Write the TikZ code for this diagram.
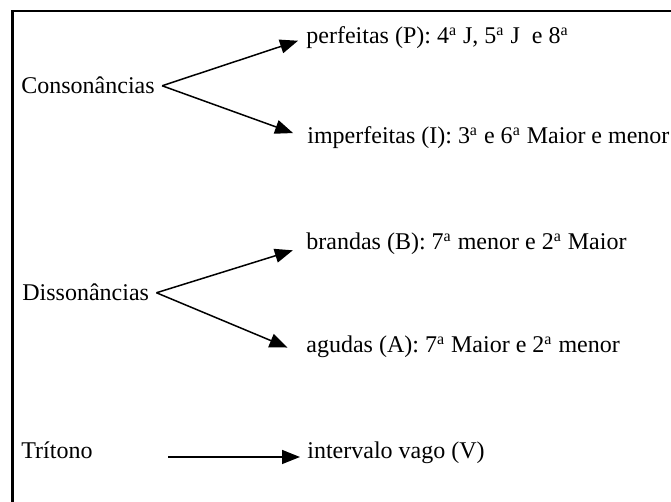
\documentclass[tikz,border=0pt]{standalone}
\usepackage{fontspec}
\setmainfont{Liberation Serif}
\usetikzlibrary{arrows.meta}
\tikzset{
  lbl/.style={inner sep=0pt, anchor=base west, font=\fontsize{12pt}{14pt}\selectfont},
  arr/.style={line width=0.75pt, -{Triangle[length=9pt,width=7pt]}},
  frameline/.style={line width=1.2pt, line join=miter}
}
\newcommand{\ord}{\textsuperscript{a}}
\begin{document}
\begin{tikzpicture}[x=0.5pt,y=-0.5pt]
\useasboundingbox (0,0) rectangle (671,502);
\draw[frameline] (12.5,503) -- (12.5,11) -- (672,11);

\node[lbl] (cons) at (21,94) {Consonâncias};
\node[lbl] (perf) at (306,44) {perfeitas (P): 4\ord{} J, 5\ord{} J\ \ e 8\ord};
\node[lbl] (imp) at (307,144) {imperfeitas (I): 3\ord{} e 6\ord{} Maior e menor};

\node[lbl] (dis) at (22,301) {Dissonâncias};
\node[lbl] (bra) at (306,250) {brandas (B): 7\ord{} menor e 2\ord{} Maior};
\node[lbl] (agu) at (306,353) {agudas (A): 7\ord{} Maior e 2\ord{} menor};

\node[lbl] (tri) at (21,459) {Trítono};
\node[lbl] (int) at (307,459) {intervalo vago (V)};

\coordinate (cv) at ([xshift=3.5pt]cons.east);
\coordinate (dv) at ([xshift=3.5pt]dis.east);
\coordinate (ts) at (168,457);

\draw[arr, shorten >=4.2pt] (cv) -- (perf.west);
\draw[arr, shorten >=7.4pt] (cv) -- (imp.west);
\draw[arr, shorten >=6.9pt] (dv) -- ([yshift=-1pt]bra.west);
\draw[arr, shorten >=10pt] (dv) -- ([yshift=-4pt]agu.west);
\draw[arr, shorten >=3.5pt] (ts) -- (ts -| int.west);
\end{tikzpicture}
\end{document}
